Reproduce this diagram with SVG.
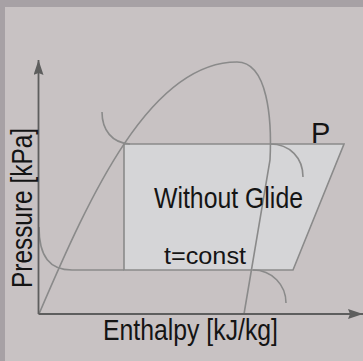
<svg xmlns="http://www.w3.org/2000/svg" width="363" height="361" viewBox="0 0 363 361">
<style>
.crv{fill:none;stroke:#8a8a8a;stroke-width:1.6}
.ax{fill:none;stroke:#5e5e5e;stroke-width:1.8}
.t{font-family:"Liberation Sans",Arial,sans-serif;font-size:29px;fill:#141414}
</style>
<defs>
<marker id="ah" markerWidth="16" markerHeight="10" refX="15" refY="5" orient="auto" markerUnits="userSpaceOnUse">
<path d="M0,0 L15,5 L0,10 L2,5 Z" fill="#5e5e5e"/>
</marker>
</defs>
<rect x="0" y="0" width="363" height="361" fill="#a7a1a5"/>
<rect x="5" y="7" width="358" height="354" fill="#c8c2c3"/>
<g id="region">
<path d="M124,144 L344,144 L293,270 L124,270 Z" fill="#d5d5d7" stroke="#8a8a8a" stroke-width="1.6"/>
</g>
<g id="curves">
<path class="crv" d="M39,314 C90,195 150,62 237,62 C268,62 272,120 270,160 L244,314"/>
<path class="crv" d="M102,112 C102,130 112,143 130,144"/>
<path class="crv" d="M270,144 C290,144 303,158 303,177"/>
<path class="crv" d="M39,227 C39,257 50,270 72,270 L124,270"/>
<path class="crv" d="M253,270 C272,270 286,285 286,303"/>
</g>
<g id="axes">
<path class="ax" d="M38.5,314 L38.5,60" marker-end="url(#ah)"/>
<path class="ax" d="M38.5,314 L363,314" marker-end="url(#ah)"/>
</g>
<g id="labels">
<text class="t" x="311" y="143">P</text>
<text class="t" x="154" y="208" textLength="149" lengthAdjust="spacingAndGlyphs">Without Glide</text>
<text class="t" x="164" y="264" style="font-size:24px" textLength="82" lengthAdjust="spacingAndGlyphs">t=const</text>
<text class="t" x="103" y="340" textLength="175" lengthAdjust="spacingAndGlyphs">Enthalpy [kJ/kg]</text>
<text class="t" transform="translate(32,288) rotate(-90)" x="0" y="0" textLength="160" lengthAdjust="spacingAndGlyphs">Pressure [kPa]</text>
</g>
</svg>
